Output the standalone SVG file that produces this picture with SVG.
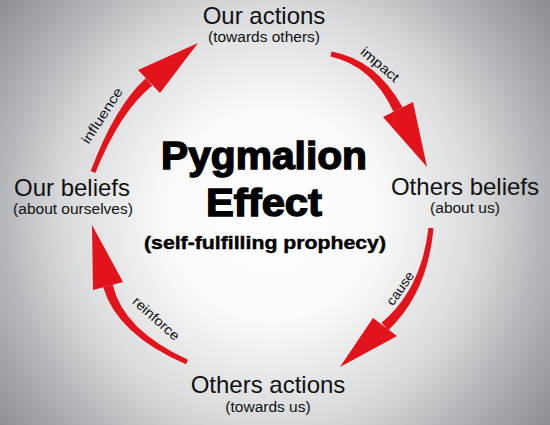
<svg xmlns="http://www.w3.org/2000/svg" width="550" height="425" viewBox="0 0 550 425">
<defs>
<radialGradient id="bg" gradientUnits="userSpaceOnUse" cx="272" cy="215" r="350">
<stop offset="0" stop-color="#ffffff"/>
<stop offset="0.3" stop-color="#fafafa"/>
<stop offset="0.6" stop-color="#d8d9db"/>
<stop offset="0.8" stop-color="#aeb1b5"/>
<stop offset="1" stop-color="#8a8d92"/>
</radialGradient>
<style>
.lbl{font-family:"Liberation Sans",Arial,sans-serif;font-size:24px;fill:#111;text-anchor:middle}
.sub{font-family:"Liberation Sans",Arial,sans-serif;font-size:15.5px;fill:#111;text-anchor:middle}
.title{font-family:"Liberation Sans",Arial,sans-serif;font-weight:bold;font-size:38px;fill:#000;stroke:#000;stroke-width:1.4;text-anchor:middle}
.subtitle{font-family:"Liberation Sans",Arial,sans-serif;font-weight:bold;font-size:18px;fill:#000;stroke:#000;stroke-width:0.4;text-anchor:middle}
.alab{font-family:"Liberation Sans",Arial,sans-serif;font-size:13.5px;fill:#111;text-anchor:middle}
.arrow{fill:#e2131b}
</style>
</defs>
<rect x="0" y="0" width="550" height="425" fill="url(#bg)"/>

<g id="connectors">
  <g id="influence">
    <path class="arrow" d="M95.3,172.9 Q121,110.1 152.2,85.8 L145.8,78.2 Q115,105.9 90.7,171.1 Z"/>
    <polygon class="arrow" points="138,70 160,93 198,43"/>
    <text class="alab" transform="translate(106,118) rotate(-57)" textLength="64" lengthAdjust="spacingAndGlyphs">influence</text>
  </g>
  <g id="impact">
    <path class="arrow" d="M330.5,56.5 Q372.2,65.7 393.5,111.8 L402.5,107.2 Q376.4,59.7 331.5,51.5 Z"/>
    <polygon class="arrow" points="383,117 413,102 427,167"/>
    <text class="alab" transform="translate(377,68) rotate(40)" textLength="46" lengthAdjust="spacingAndGlyphs">impact</text>
  </g>
  <g id="cause">
    <path class="arrow" d="M428.5,227.8 Q421.5,288.9 381.6,322.8 L388.4,330.2 Q427.9,292.3 433.5,228.2 Z"/>
    <polygon class="arrow" points="373,318 397,336 340,367"/>
    <text class="alab" transform="translate(404,291) rotate(-55)" textLength="38" lengthAdjust="spacingAndGlyphs">cause</text>
  </g>
  <g id="reinforce">
    <path class="arrow" d="M188,359.7 Q122.9,329.9 112.8,284.7 L103.2,287.3 Q117.3,334.7 186,364.3 Z"/>
    <polygon class="arrow" points="93,290 123,282 92,225"/>
    <text class="alab" transform="translate(153,322) rotate(42)" textLength="58" lengthAdjust="spacingAndGlyphs">reinforce</text>
  </g>
</g>

<g id="node-our-actions">
  <text class="lbl" x="264" y="24">Our actions</text>
  <text class="sub" x="264" y="42">(towards others)</text>
</g>
<g id="node-others-beliefs">
  <text class="lbl" x="465" y="195">Others beliefs</text>
  <text class="sub" x="465" y="213">(about us)</text>
</g>
<g id="node-others-actions">
  <text class="lbl" x="268" y="393">Others actions</text>
  <text class="sub" x="268" y="412">(towards us)</text>
</g>
<g id="node-our-beliefs">
  <text class="lbl" x="72" y="196">Our beliefs</text>
  <text class="sub" x="73" y="214">(about ourselves)</text>
</g>
<g id="center-title">
  <text class="title" x="264" y="169" textLength="206" lengthAdjust="spacingAndGlyphs">Pygmalion</text>
  <text class="title" x="264" y="216" textLength="116" lengthAdjust="spacingAndGlyphs">Effect</text>
  <text class="subtitle" x="265" y="249" textLength="242" lengthAdjust="spacingAndGlyphs">(self-fulfilling prophecy)</text>
</g>
</svg>
